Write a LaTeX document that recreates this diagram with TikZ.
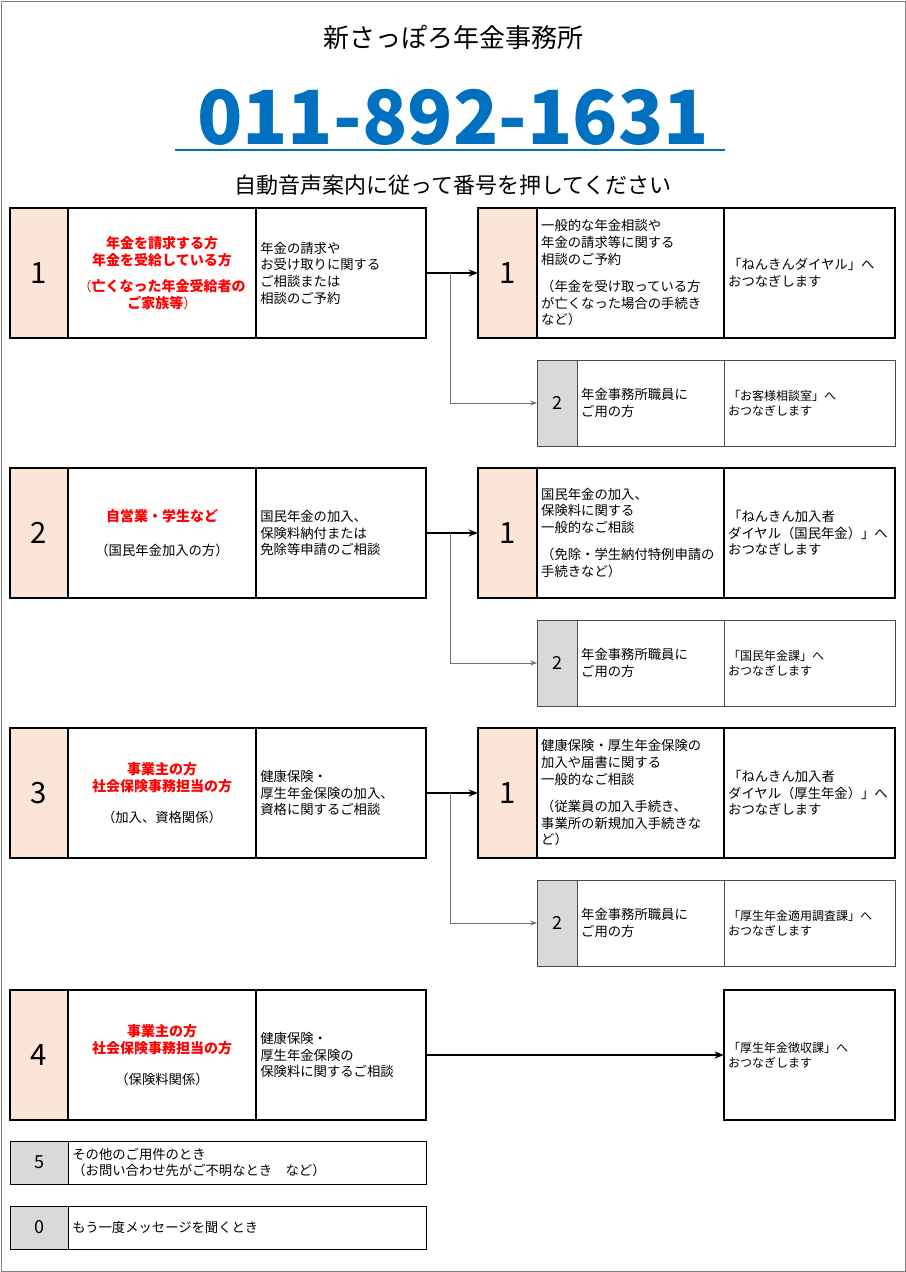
\documentclass[tikz,border=0pt]{standalone}
\usepackage{fontspec}
\setmainfont{Noto Sans CJK JP}
\usetikzlibrary{positioning}
\usetikzlibrary{arrows.meta}
\definecolor{peach}{HTML}{FBE5D6}
\definecolor{cellgray}{HTML}{D9D9D9}
\definecolor{telblue}{HTML}{0070C0}
\tikzset{cell/.style={rectangle,draw=black,line width=1.4pt,outer sep=0pt,inner sep=3pt,
minimum height=97.5pt}}
\tikzset{numcell/.style={cell,fill=peach,minimum width=43.5pt,font=\fontsize{22}{26}\selectfont}}
\tikzset{whocell/.style={cell,minimum width=141pt,text width=135pt,align=center,
font=\fontsize{10}{13}\selectfont}}
\tikzset{desccell/.style={cell,minimum width=127.5pt,text width=121pt,align=left,
font=\fontsize{10}{12.5}\selectfont}}
\tikzset{rnumcell/.style={numcell,minimum width=44.25pt}}
\tikzset{rdesccell/.style={desccell,minimum width=140.25pt,text width=134pt}}
\tikzset{rtocell/.style={desccell,minimum width=128.25pt,text width=122pt}}
\tikzset{subcell/.style={rectangle,draw=black!70,line width=0.6pt,outer sep=0pt,inner sep=3pt,
minimum height=64.5pt,font=\fontsize{10}{12.5}\selectfont}}
\tikzset{subnum/.style={subcell,fill=cellgray,minimum width=30pt,font=\fontsize{13.5}{16}\selectfont}}
\tikzset{subdesc/.style={subcell,minimum width=110.25pt,text width=104pt,align=left}}
\tikzset{subto/.style={subcell,minimum width=128.25pt,text width=122pt,align=left,
font=\fontsize{9}{11}\selectfont}}
\tikzset{mainarrow/.style={line width=1.6pt,-{Stealth[length=2.5mm]}}}
\tikzset{subarrow/.style={line width=0.6pt,draw=black!55,-{Stealth[length=1.8mm]}}}
\newcommand\redl[1]{{\color{red}\bfseries\fontsize{10.5}{13.5}\selectfont #1}}
\begin{document}
\begin{tikzpicture}[x=0.75pt,y=-0.75pt]
    \useasboundingbox (0,0) rectangle (906,1272);
    \draw[black!50,line width=0.6pt] (1,1) rectangle (905,1271);

    \node[font=\fontsize{19.5}{22}\selectfont] (title) at (453,37) {新さっぽろ年金事務所};
    \node[font=\bfseries\fontsize{56}{60}\selectfont,text=telblue] (tel) at (453,117) {011-892-1631};
    \draw[telblue,line width=2pt] (175,150) -- (725,150);
    \node[font=\fontsize{16.5}{19}\selectfont] (guide) at (453,185) {自動音声案内に従って番号を押してください};

    % 1
    \node[numcell,anchor=north west] (g1n) at (10,208) {1};
    \node[whocell,right=0pt of g1n] (g1who) {\redl{年金を請求する方\\年金を受給している方}\\[6pt]{\color{red}（\redl{亡くなった年金受給者の}\\\redl{ご家族等}）}};
    \node[desccell,right=0pt of g1who] (g1desc) {年金の請求や\\お受け取りに関する\\ご相談または\\相談のご予約};
    \node[rnumcell,anchor=north west] (g1rn) at (478,208) {1};
    \node[rdesccell,right=0pt of g1rn] (g1rdesc) {一般的な年金相談や\\年金の請求等に関する\\相談のご予約\\[8pt]（年金を受け取っている方\\が亡くなった場合の手続き\\など）};
    \node[rtocell,right=0pt of g1rdesc] (g1rto) {「ねんきんダイヤル」へ\\おつなぎします};
    \node[subnum,anchor=north west] (s1n) at (537,360) {2};
    \node[subdesc,right=0pt of s1n] (s1desc) {年金事務所職員に\\ご用の方};
    \node[subto,right=0pt of s1desc] (s1to) {「お客様相談室」へ\\おつなぎします};
    \draw[mainarrow] (g1desc.east) -- (g1rn.west);
    \draw[subarrow] ([xshift=18pt]g1desc.east) |- (s1n.west);

    % 2
    \node[numcell,anchor=north west] (g2n) at (10,468) {2};
    \node[whocell,right=0pt of g2n] (g2who) {\redl{自営業・学生など}\\[12pt]（国民年金加入の方）};
    \node[desccell,right=0pt of g2who] (g2desc) {国民年金の加入、\\保険料納付または\\免除等申請のご相談};
    \node[rnumcell,anchor=north west] (g2rn) at (478,468) {1};
    \node[rdesccell,right=0pt of g2rn] (g2rdesc) {国民年金の加入、\\保険料に関する\\一般的なご相談\\[8pt]（免除・学生納付特例申請の\\手続きなど）};
    \node[rtocell,right=0pt of g2rdesc] (g2rto) {「ねんきん加入者\\ダイヤル（国民年金）」へ\\おつなぎします};
    \node[subnum,anchor=north west] (s2n) at (537,620) {2};
    \node[subdesc,right=0pt of s2n] (s2desc) {年金事務所職員に\\ご用の方};
    \node[subto,right=0pt of s2desc] (s2to) {「国民年金課」へ\\おつなぎします};
    \draw[mainarrow] (g2desc.east) -- (g2rn.west);
    \draw[subarrow] ([xshift=18pt]g2desc.east) |- (s2n.west);

    % 3
    \node[numcell,anchor=north west] (g3n) at (10,728) {3};
    \node[whocell,right=0pt of g3n] (g3who) {\redl{事業主の方\\社会保険事務担当の方}\\[10pt]（加入、資格関係）};
    \node[desccell,right=0pt of g3who] (g3desc) {健康保険・\\厚生年金保険の加入、\\資格に関するご相談};
    \node[rnumcell,anchor=north west] (g3rn) at (478,728) {1};
    \node[rdesccell,right=0pt of g3rn] (g3rdesc) {健康保険・厚生年金保険の\\加入や届書に関する\\一般的なご相談\\[8pt]（従業員の加入手続き、\\事業所の新規加入手続きな\\ど）};
    \node[rtocell,right=0pt of g3rdesc] (g3rto) {「ねんきん加入者\\ダイヤル（厚生年金）」へ\\おつなぎします};
    \node[subnum,anchor=north west] (s3n) at (537,880) {2};
    \node[subdesc,right=0pt of s3n] (s3desc) {年金事務所職員に\\ご用の方};
    \node[subto,right=0pt of s3desc] (s3to) {「厚生年金適用調査課」へ\\おつなぎします};
    \draw[mainarrow] (g3desc.east) -- (g3rn.west);
    \draw[subarrow] ([xshift=18pt]g3desc.east) |- (s3n.west);

    % 4
    \node[numcell,anchor=north west] (g4n) at (10,990) {4};
    \node[whocell,right=0pt of g4n] (g4who) {\redl{事業主の方\\社会保険事務担当の方}\\[10pt]（保険料関係）};
    \node[desccell,right=0pt of g4who] (g4desc) {健康保険・\\厚生年金保険の\\保険料に関するご相談};
    \node[rtocell,anchor=north west,font=\fontsize{9}{11}\selectfont] (g4to) at (724,990) {「厚生年金徴収課」へ\\おつなぎします};
    \draw[mainarrow] (g4desc.east) -- (g4to.west);

    % 5, 0
    \node[subnum,draw=black,minimum height=32.25pt,minimum width=43.5pt,anchor=north west] (o5n) at (10,1141) {5};
    \node[subdesc,draw=black,minimum height=32.25pt,minimum width=268.5pt,text width=262pt,right=0pt of o5n] (o5desc) {その他のご用件のとき\\（お問い合わせ先がご不明なとき\quad など）};
    \node[subnum,draw=black,minimum height=32.25pt,minimum width=43.5pt,anchor=north west] (o0n) at (10,1206) {0};
    \node[subdesc,draw=black,minimum height=32.25pt,minimum width=268.5pt,text width=262pt,right=0pt of o0n] (o0desc) {もう一度メッセージを聞くとき};
\end{tikzpicture}
\end{document}
